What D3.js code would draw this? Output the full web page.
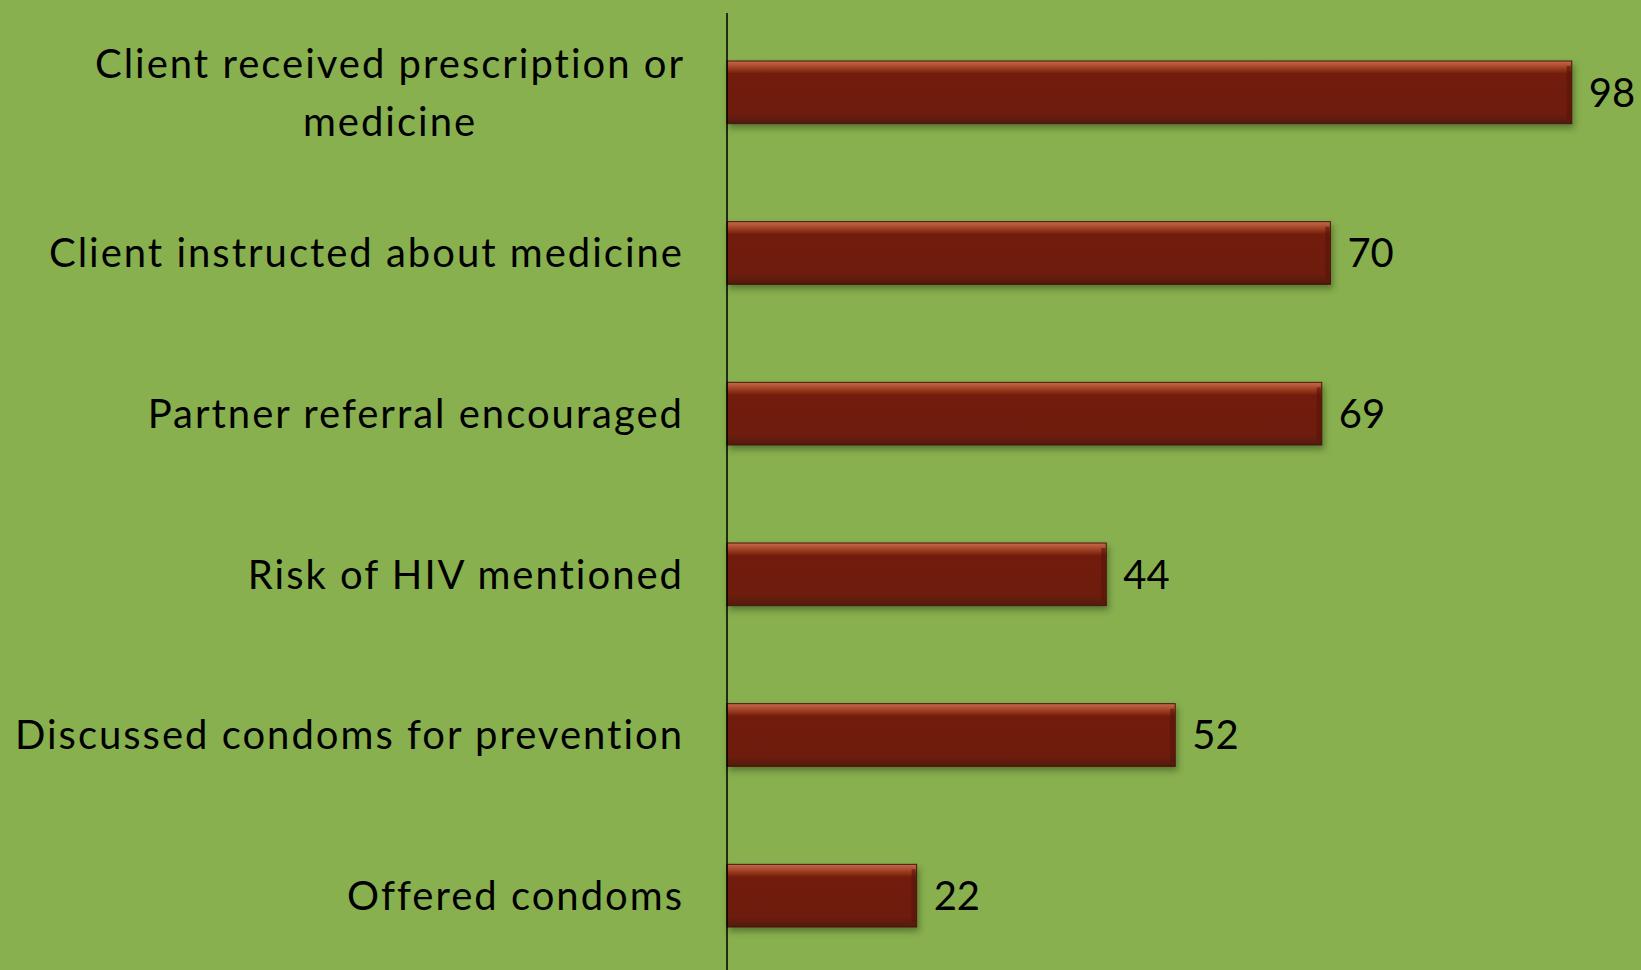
<!DOCTYPE html>
<html>
<head>
<meta charset="utf-8">
<script src="https://cdn.jsdelivr.net/npm/d3@7"></script>
<style>
  body { margin: 0; background: #88b04f; }
  svg { display: block; }
  .label { font-family: Lato, "Open Sans", sans-serif; font-size: 40px; fill: #000; }
  .cat { letter-spacing: 2px; }
</style>
</head>
<body>
<div class="chart"></div>
<script>
var width = 1641;
var height = 970;

var categories = ["Client received prescription or|medicine",
                  "Client instructed about medicine",
                  "Partner referral encouraged",
                  "Risk of HIV mentioned",
                  "Discussed condoms for prevention",
                  "Offered condoms"];
var values = [98, 70, 69, 44, 52, 22];

var axisX = 727;

var svg = d3.select(".chart")
            .append("svg")
            .attr("width", width)
            .attr("height", height);

svg.append("rect")
    .attr("width", width)
    .attr("height", height)
    .attr("fill", "#88b04f");

var defs = svg.append("defs");

// bevel-ish look: light top edge, dark bottom edge
var grad = defs.append("linearGradient")
    .attr("id", "barGrad")
    .attr("x1", 0).attr("y1", 0).attr("x2", 0).attr("y2", 1);
grad.append("stop").attr("offset", "0%").attr("stop-color", "#c46a50");
grad.append("stop").attr("offset", "8%").attr("stop-color", "#ab4a2e");
grad.append("stop").attr("offset", "20%").attr("stop-color", "#721f08");
grad.append("stop").attr("offset", "84%").attr("stop-color", "#6e1d08");
grad.append("stop").attr("offset", "93%").attr("stop-color", "#5e1a0c");
grad.append("stop").attr("offset", "100%").attr("stop-color", "#4e1a10");

var shadow = defs.append("filter")
    .attr("id", "shadow")
    .attr("x", "-5%").attr("y", "-20%")
    .attr("width", "115%").attr("height", "150%");
shadow.append("feDropShadow")
    .attr("dx", 2).attr("dy", 4)
    .attr("stdDeviation", 3)
    .attr("flood-color", "#2a3a10")
    .attr("flood-opacity", 0.5);

var scaleX = d3.scaleLinear().domain([0, 100]).range([axisX, axisX + 862]);
var scaleY = d3.scaleBand()
               .domain(categories)
               .range([12, 976])
               .paddingInner(0.61)
               .paddingOuter(0.305);

var bars = svg.selectAll(".bar")
    .data(values)
    .enter()
    .append("g")
    .attr("class", "bar");

bars.append("rect")
    .attr("x", scaleX(0))
    .attr("y", function(d, i) { return scaleY(categories[i]); })
    .attr("width", function(d) { return scaleX(d) - scaleX(0); })
    .attr("height", scaleY.bandwidth())
    .attr("fill", "url(#barGrad)")
    .attr("stroke", "#4a1406")
    .attr("stroke-width", 1)
    .attr("filter", "url(#shadow)");

// side shading on the right end
bars.append("rect")
    .attr("x", function(d) { return scaleX(d) - 5; })
    .attr("y", function(d, i) { return scaleY(categories[i]) + 5; })
    .attr("width", 4)
    .attr("height", scaleY.bandwidth() - 10)
    .attr("fill", "#54160a")
    .attr("opacity", 0.6);

bars.append("text")
    .attr("class", "label")
    .attr("x", function(d) { return scaleX(d) + 17; })
    .attr("y", function(d, i) { return scaleY(categories[i]) + scaleY.bandwidth() / 2; })
    .attr("dy", "0.36em")
    .text(function(d) { return d; });

// category axis line
var yAxis = d3.axisLeft(scaleY).tickSize(0).tickFormat("");
svg.append("g")
    .attr("transform", "translate(" + axisX + ",0)")
    .call(yAxis)
    .select(".domain")
    .attr("d", "M0,13V970")
    .attr("stroke", "#000")
    .attr("stroke-width", 1.5);

var catText = svg.selectAll(".cat")
    .data(categories)
    .enter()
    .append("text")
    .attr("class", "label cat")
    .attr("text-anchor", "middle")
    .attr("transform", function(d) {
        var cy = scaleY(d) + scaleY.bandwidth() / 2;
        return "translate(0," + cy + ")";
    });

catText.each(function(d) {
    var lines = d.split("|");
    var t = d3.select(this);
    if (lines.length === 1) {
        t.attr("text-anchor", "end");
        t.append("tspan").attr("x", 684).attr("dy", "0.36em").text(lines[0]);
    } else {
        lines.forEach(function(l, k) {
            t.append("tspan")
             .attr("x", 390)
             .attr("y", (k - (lines.length - 1) / 2) * 58)
             .attr("dy", "0.36em")
             .text(l);
        });
    }
});
</script>
</body>
</html>
